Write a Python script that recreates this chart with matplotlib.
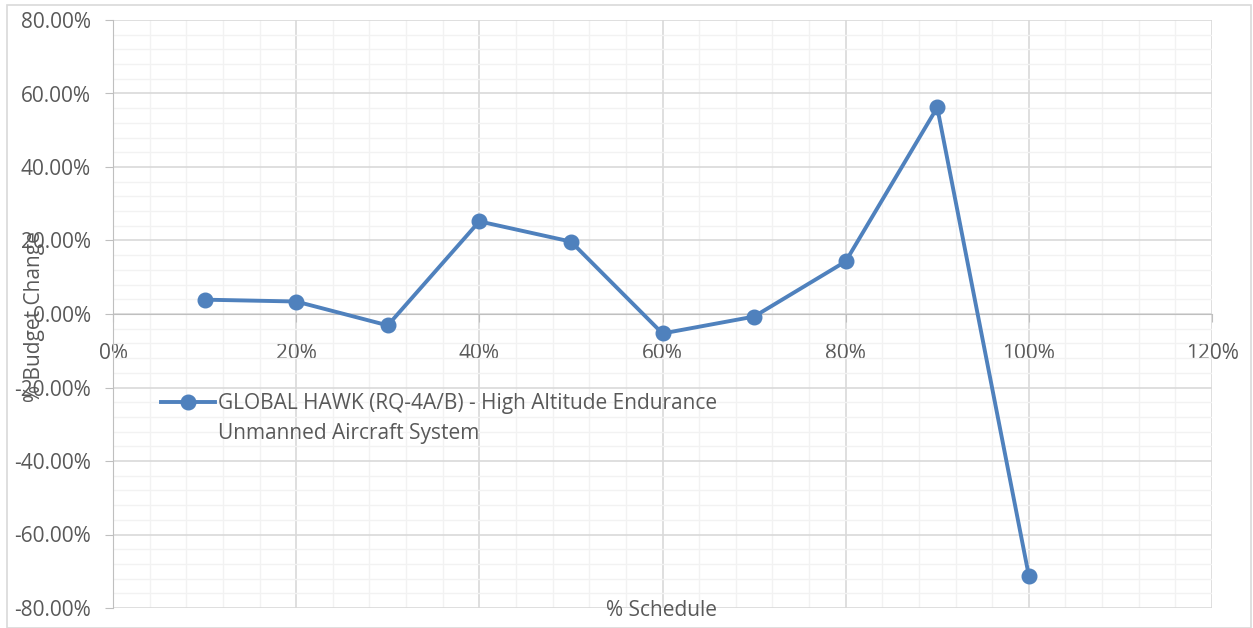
import matplotlib.pyplot as plt
from matplotlib.ticker import MultipleLocator, PercentFormatter
from matplotlib.patches import Rectangle

# % schedule vs % budget change
schedule = [0.10, 0.20, 0.30, 0.40, 0.50, 0.60, 0.70, 0.80, 0.90, 1.00]
budget_change = [0.039, 0.034, -0.031, 0.252, 0.197, -0.053, -0.007, 0.143, 0.562, -0.712]
series_name = "GLOBAL HAWK (RQ-4A/B) - High Altitude Endurance"
series_name_2 = "Unmanned Aircraft System"

plt.rcParams['font.family'] = ['Open Sans', 'DejaVu Sans']
plt.rcParams['axes.unicode_minus'] = False
grey = '#595959'

fig = plt.figure(figsize=(12.53, 6.28), dpi=100)
ax = fig.add_axes([113/1253, 1-608/628, (1212-113)/1253, 588/628])

ax.plot(schedule, budget_change, color='#4F81BD', lw=2.8, marker='o', ms=10.5,
        label=series_name, zorder=5)

ax.set_xlim(0, 1.2)
ax.set_ylim(-0.8, 0.8)
ax.xaxis.set_major_locator(MultipleLocator(0.2))
ax.xaxis.set_minor_locator(MultipleLocator(0.04))
ax.yaxis.set_major_locator(MultipleLocator(0.2))
ax.yaxis.set_minor_locator(MultipleLocator(0.04))
ax.xaxis.set_major_formatter(PercentFormatter(1.0, decimals=0))
ax.yaxis.set_major_formatter(PercentFormatter(1.0, decimals=2))

ax.grid(which='major', color='#D9D9D9', lw=1.2)
ax.grid(which='minor', color='#F2F2F2', lw=1.0)
ax.set_axisbelow(True)

for s in ['top', 'right']:
    ax.spines[s].set_visible(False)
ax.spines['bottom'].set_position(('data', 0))
ax.spines['bottom'].set_color('#BFBFBF')
ax.spines['left'].set_color('#BFBFBF')
ax.spines['bottom'].set_zorder(1)

ax.tick_params(which='major', direction='out', length=6, color='#BFBFBF',
               labelcolor=grey, labelsize=15)
ax.tick_params(axis='x', pad=15)
ax.tick_params(axis='y', pad=10)
ax.tick_params(which='minor', length=0)

fig.text(35/1253, 1-317/628, '% Budget Change', rotation=90, ha='center', va='center',
         color=grey, fontsize=15)
fig.text(662/1253, 1-611/628, '% Schedule', ha='center', va='center',
         color=grey, fontsize=15)

leg = ax.legend(loc='center left', bbox_to_anchor=(142/1253, 1-404/628),
                bbox_transform=fig.transFigure, frameon=False, fontsize=15,
                handlelength=2.6, handletextpad=0.15, labelcolor=grey)

# second line of the series name sits under the first, handle stays on line one
fig.canvas.draw()
bb = leg.get_texts()[0].get_window_extent().transformed(fig.transFigure.inverted())
fig.text(bb.x0, bb.y0 - 30/628, series_name_2, ha='left', va='bottom',
         color=grey, fontsize=15)

fig.patches.append(Rectangle((7/1253, 0), 1244/1253, 1-5/628, transform=fig.transFigure,
                             fill=False, edgecolor='#D9D9D9', lw=1.2))

fig.savefig('out.png', dpi=100)
